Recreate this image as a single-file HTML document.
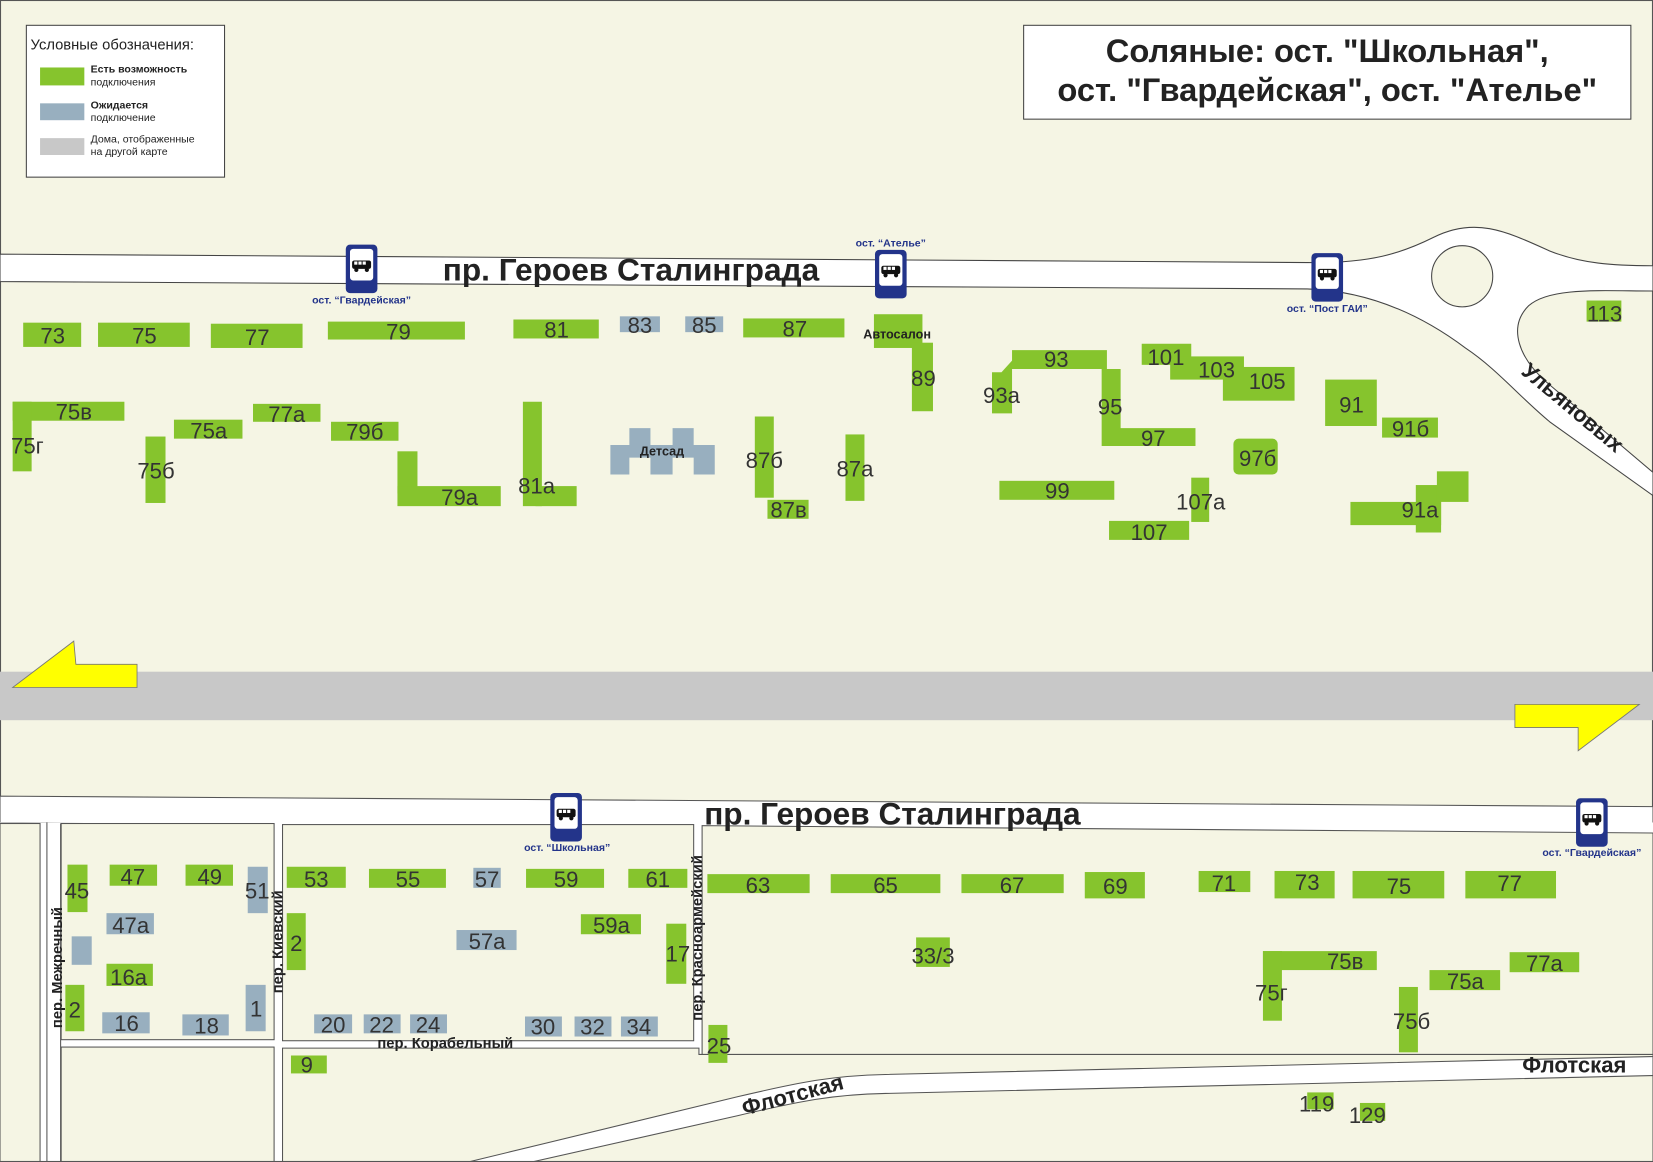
<!DOCTYPE html>
<html><head><meta charset="utf-8"><style>
html,body{margin:0;padding:0;background:#f5f5e4;}
svg{display:block}
.n{font-family:"Liberation Sans",sans-serif;font-size:21px;fill:#333;text-anchor:middle}
.g{fill:#86c42d}.b{fill:#98afbf}
.st{font-family:"Liberation Sans",sans-serif;font-size:10px;font-weight:bold;fill:#23348a;text-anchor:middle}
.rd{font-family:"Liberation Sans",sans-serif;font-weight:bold;fill:#222}
</style></head><body>
<svg width="1653" height="1162" viewBox="0 0 1568 1102" preserveAspectRatio="none" xmlns="http://www.w3.org/2000/svg" xmlns:xlink="http://www.w3.org/1999/xlink">
<defs>
<g id="bus">
<rect x="0" y="0" width="30" height="46" rx="4" fill="#23348a"/>
<rect x="4" y="4" width="22" height="30" rx="3" fill="#fff"/>
<rect x="6" y="15" width="18" height="8" rx="2" fill="#111"/>
<rect x="8" y="16" width="3" height="3" fill="#fff"/><rect x="12" y="16" width="3" height="3" fill="#fff"/><rect x="16" y="16" width="3" height="3" fill="#fff"/>
<circle cx="10" cy="24" r="2" fill="#111"/><circle cx="20" cy="24" r="2" fill="#111"/>
</g>
</defs>
<rect width="1568" height="1102" fill="#f5f5e4" stroke="#555" stroke-width="2"/>
<path d="M0,241 L1240,249 C1300,250 1330,240 1360,225 C1400,205 1430,220 1470,238 C1500,250 1530,252 1568,252 L1568,276 C1520,276 1470,272 1450,290 C1430,310 1440,340 1470,365 L1568,448 L1568,470 L1470,400 C1440,375 1420,350 1390,330 C1350,300 1300,276 1240,274 L0,267 Z" fill="#fff" stroke="#444" stroke-width="1"/>
<circle cx="1387" cy="262" r="29" fill="#f5f5e4" stroke="#444" stroke-width="1"/>
<rect x="0" y="637" width="1568" height="46" fill="#c8c8c8"/>
<polygon points="12,652 70,608 72,630 130,630 130,652" fill="#ffff00" stroke="#777" stroke-width="0.8"/>
<polygon points="1437,668 1555,668 1497,712 1497,690 1437,690" fill="#ffff00" stroke="#777" stroke-width="0.8"/>
<path d="M0,755 L1568,765 L1568,790 L0,780 Z" fill="#fff" stroke="#555" stroke-width="1"/>
<rect x="0" y="780" width="1568" height="322" fill="#fff"/>
<rect x="0" y="781" width="38" height="321" fill="#f5f5e4" stroke="#555" stroke-width="1"/>
<rect x="44" y="780" width="1" height="322" fill="#555"/>
<rect x="57" y="781" width="1" height="321" fill="#555"/>
<rect x="58" y="781" width="202" height="205" fill="#f5f5e4" stroke="#555" stroke-width="1"/>
<rect x="268" y="782" width="390" height="205" fill="#f5f5e4" stroke="#555" stroke-width="1"/>
<rect x="58" y="993" width="202" height="110" fill="#f5f5e4" stroke="#555" stroke-width="1"/>
<path d="M268,994 L663,994 L663,1000 L1568,1000 L1568,1102 L268,1102 Z" fill="#f5f5e4" stroke="#555" stroke-width="1"/>
<path d="M666,783 L1568,790 L1568,1000 L666,1000 Z" fill="#f5f5e4" stroke="#555" stroke-width="1"/>
<path d="M440,1103 L700,1040 C760,1026 790,1020 840,1019 L1568,1002 L1568,1020 L840,1037 C790,1038 760,1044 700,1058 L500,1103 Z" fill="#fff" stroke="#555" stroke-width="1"/>
<rect x="0" y="1101" width="1568" height="1" fill="#555"/>

<rect x="25" y="24" width="188" height="144" fill="#fff" stroke="#444" stroke-width="1"/>
<text x="29" y="47" font-family="Liberation Sans,sans-serif" font-size="14" fill="#222">Условные обозначения:</text>
<rect x="38" y="64" width="42" height="17" class="g"/>
<rect x="38" y="98" width="42" height="16" class="b"/>
<rect x="38" y="131" width="42" height="16" fill="#c8c8c8"/>
<g font-family="Liberation Sans,sans-serif" font-size="10" fill="#222">
<text x="86" y="69" font-weight="bold">Есть возможность</text><text x="86" y="81">подключения</text>
<text x="86" y="103" font-weight="bold">Ожидается</text><text x="86" y="115">подключение</text>
<text x="86" y="135">Дома, отображенные</text><text x="86" y="147">на другой карте</text></g>

<rect x="971" y="24" width="576" height="89" fill="#fff" stroke="#444" stroke-width="1"/>
<text x="1259" y="59" text-anchor="middle" font-family="Liberation Sans,sans-serif" font-weight="bold" font-size="31" fill="#222">Соляные: ост. "Школьная",</text>
<text x="1259" y="96" text-anchor="middle" font-family="Liberation Sans,sans-serif" font-weight="bold" font-size="31" fill="#222">ост. "Гвардейская", ост. "Ателье"</text>

<text x="420" y="266" class="rd" font-size="30">пр. Героев Сталинграда</text>
<text x="668" y="782" class="rd" font-size="30">пр. Героев Сталинграда</text>
<text class="rd" font-size="21" transform="translate(1442,354) rotate(40)">Ульяновых</text>
<text class="rd" font-size="21" transform="translate(706,1058) rotate(-15)">Флотская</text>
<text x="1444" y="1017" class="rd" font-size="21">Флотская</text>
<text class="rd" font-size="14" transform="translate(59,975) rotate(-90)">пер. Межречный</text>
<text class="rd" font-size="14" transform="translate(268,942) rotate(-90)">пер. Киевский</text>
<text class="rd" font-size="14" transform="translate(666,968) rotate(-90)">пер. Красноармейский</text>
<text x="358" y="994" class="rd" font-size="14">пер. Корабельный</text>

<rect x="22" y="306" width="55" height="23" class="g"/>
<rect x="93" y="306" width="87" height="23" class="g"/>
<rect x="200" y="307" width="87" height="23" class="g"/>
<rect x="311" y="305" width="130" height="17" class="g"/>
<rect x="487" y="303" width="81" height="18" class="g"/>
<rect x="588" y="300" width="38" height="15" class="b"/>
<rect x="650" y="300" width="36" height="15" class="b"/>
<rect x="705" y="302" width="96" height="18" class="g"/>
<rect x="829" y="298" width="46" height="32" class="g"/>
<rect x="865" y="325" width="20" height="65" class="g"/>
<rect x="12" y="381" width="106" height="18" class="g"/>
<rect x="12" y="381" width="18" height="66" class="g"/>
<rect x="165" y="398" width="65" height="18" class="g"/>
<rect x="240" y="383" width="64" height="17" class="g"/>
<rect x="314" y="400" width="64" height="18" class="g"/>
<rect x="377" y="428" width="19" height="40" class="g"/>
<rect x="377" y="461" width="98" height="19" class="g"/>
<rect x="138" y="414" width="19" height="63" class="g"/>
<rect x="496" y="381" width="18" height="99" class="g"/>
<rect x="508" y="461" width="39" height="19" class="g"/>
<path d="M579,422 H597 V406 H617 V422 H638 V406 H658 V422 H678 V450 H658 V434 H638 V450 H617 V434 H597 V450 H579 Z" class="b"/>
<rect x="716" y="395" width="18" height="77" class="g"/>
<rect x="728" y="474" width="39" height="18" class="g"/>
<rect x="802" y="412" width="18" height="63" class="g"/>
<path d="M941,353 H950 L960,342 V332 H1050 V350 H1063 V406 H1134 V423 H1045 V350 H960 V392 H941 Z" class="g"/>
<rect x="948" y="456" width="109" height="18" class="g"/>
<rect x="1083" y="326" width="47" height="20" class="g"/>
<rect x="1110" y="338" width="70" height="22" class="g"/>
<rect x="1160" y="348" width="68" height="32" class="g"/>
<rect x="1130" y="453" width="17" height="42" class="g"/>
<rect x="1052" y="494" width="76" height="18" class="g"/>
<rect x="1170" y="416" width="42" height="34" rx="5" class="g"/>
<rect x="1257" y="360" width="49" height="44" class="g"/>
<rect x="1311" y="396" width="53" height="19" class="g"/>
<rect x="1281" y="476" width="86" height="22" class="g"/>
<rect x="1343" y="460" width="24" height="45" class="g"/>
<rect x="1363" y="447" width="30" height="29" class="g"/>
<rect x="1505" y="285" width="33" height="20" class="g"/>

<rect x="64" y="820" width="19" height="45" class="g"/>
<rect x="62" y="934" width="18" height="44" class="g"/>
<rect x="68" y="888" width="19" height="27" class="b"/>
<rect x="104" y="820" width="45" height="20" class="g"/>
<rect x="101" y="866" width="45" height="20" class="b"/>
<rect x="101" y="914" width="44" height="21" class="g"/>
<rect x="97" y="960" width="45" height="20" class="b"/>
<rect x="173" y="962" width="44" height="20" class="b"/>
<rect x="176" y="820" width="45" height="20" class="g"/>
<rect x="235" y="822" width="19" height="44" class="b"/>
<rect x="233" y="934" width="19" height="44" class="b"/>
<rect x="272" y="822" width="56" height="20" class="g"/>
<rect x="272" y="866" width="18" height="54" class="g"/>
<rect x="350" y="824" width="73" height="18" class="g"/>
<rect x="449" y="823" width="26" height="19" class="b"/>
<rect x="499" y="824" width="74" height="18" class="g"/>
<rect x="596" y="824" width="56" height="18" class="g"/>
<rect x="433" y="882" width="57" height="19" class="b"/>
<rect x="551" y="867" width="57" height="19" class="g"/>
<rect x="632" y="876" width="19" height="57" class="g"/>
<rect x="298" y="962" width="36" height="18" class="b"/>
<rect x="345" y="962" width="35" height="18" class="b"/>
<rect x="389" y="962" width="35" height="18" class="b"/>
<rect x="498" y="964" width="35" height="19" class="b"/>
<rect x="545" y="964" width="35" height="19" class="b"/>
<rect x="589" y="964" width="35" height="19" class="b"/>
<rect x="276" y="1001" width="34" height="17" class="g"/>
<rect x="672" y="972" width="18" height="36" class="g"/>
<rect x="671" y="829" width="97" height="18" class="g"/>
<rect x="788" y="829" width="104" height="18" class="g"/>
<rect x="912" y="829" width="97" height="18" class="g"/>
<rect x="1029" y="827" width="57" height="25" class="g"/>
<rect x="1137" y="826" width="49" height="20" class="g"/>
<rect x="1209" y="826" width="57" height="26" class="g"/>
<rect x="1283" y="826" width="87" height="26" class="g"/>
<rect x="1390" y="826" width="86" height="26" class="g"/>
<rect x="869" y="889" width="32" height="28" class="g"/>
<rect x="1198" y="902" width="108" height="18" class="g"/>
<rect x="1198" y="902" width="18" height="66" class="g"/>
<rect x="1327" y="936" width="18" height="62" class="g"/>
<rect x="1356" y="920" width="67" height="19" class="g"/>
<rect x="1432" y="903" width="66" height="19" class="g"/>
<rect x="1240" y="1036" width="25" height="16" class="g"/>
<rect x="1290" y="1046" width="24" height="17" class="g"/>

<text x="851" y="321" text-anchor="middle" class="rd" font-size="12">Автосалон</text>
<text x="628" y="432" text-anchor="middle" class="rd" font-size="12">Детсад</text>

<g class="n">
<text x="50" y="326">73</text><text x="137" y="326">75</text><text x="244" y="327">77</text><text x="378" y="322">79</text>
<text x="528" y="320">81</text><text x="607" y="316">83</text><text x="668" y="316">85</text><text x="754" y="319">87</text>
<text x="876" y="366">89</text><text x="70" y="398">75в</text><text x="26" y="430">75г</text><text x="198" y="416">75а</text>
<text x="272" y="400">77а</text><text x="346" y="417">79б</text><text x="436" y="479">79а</text><text x="148" y="454">75б</text>
<text x="509" y="468">81а</text><text x="725" y="444">87б</text><text x="748" y="491">87в</text><text x="811" y="452">87а</text>
<text x="950" y="382">93а</text><text x="1002" y="348">93</text><text x="1053" y="393">95</text><text x="1094" y="423">97</text>
<text x="1003" y="473">99</text><text x="1106" y="346">101</text><text x="1154" y="358">103</text><text x="1202" y="369">105</text>
<text x="1139" y="483">107а</text><text x="1090" y="512">107</text><text x="1193" y="442">97б</text><text x="1282" y="391">91</text>
<text x="1338" y="414">91б</text><text x="1347" y="491">91а</text><text x="1522" y="305">113</text>
<text x="73" y="852">45</text><text x="71" y="965">2</text><text x="126" y="839">47</text><text x="124" y="885">47а</text>
<text x="122" y="934">16а</text><text x="120" y="978">16</text><text x="196" y="980">18</text><text x="199" y="839">49</text>
<text x="244" y="852">51</text><text x="243" y="964">1</text><text x="300" y="841">53</text><text x="281" y="902">2</text>
<text x="387" y="841">55</text><text x="462" y="841">57</text><text x="537" y="841">59</text><text x="624" y="841">61</text>
<text x="462" y="900">57а</text><text x="580" y="885">59а</text><text x="643" y="912">17</text>
<text x="316" y="979">20</text><text x="362" y="979">22</text><text x="406" y="979">24</text><text x="515" y="981">30</text>
<text x="562" y="981">32</text><text x="606" y="981">34</text><text x="291" y="1017">9</text><text x="682" y="999">25</text>
<text x="719" y="847">63</text><text x="840" y="847">65</text><text x="960" y="847">67</text><text x="1058" y="848">69</text>
<text x="1161" y="845">71</text><text x="1240" y="844">73</text><text x="1327" y="848">75</text><text x="1432" y="845">77</text>
<text x="885" y="914">33/3</text><text x="1276" y="919">75в</text><text x="1206" y="949">75г</text><text x="1339" y="976">75б</text>
<text x="1390" y="938">75а</text><text x="1465" y="921">77а</text><text x="1249" y="1054">119</text><text x="1297" y="1065">129</text>
</g>

<use href="#bus" xlink:href="#bus" x="328" y="232"/>
<use href="#bus" xlink:href="#bus" x="830" y="237"/>
<use href="#bus" xlink:href="#bus" x="1244" y="240"/>
<use href="#bus" xlink:href="#bus" x="522" y="752"/>
<use href="#bus" xlink:href="#bus" x="1495" y="757"/>
<text x="343" y="288" class="st">ост. “Гвардейская”</text>
<text x="845" y="234" class="st">ост. “Ателье”</text>
<text x="1259" y="296" class="st">ост. “Пост ГАИ”</text>
<text x="538" y="807" class="st">ост. “Школьная”</text>
<text x="1510" y="812" class="st">ост. “Гвардейская”</text>
</svg>
</body></html>
